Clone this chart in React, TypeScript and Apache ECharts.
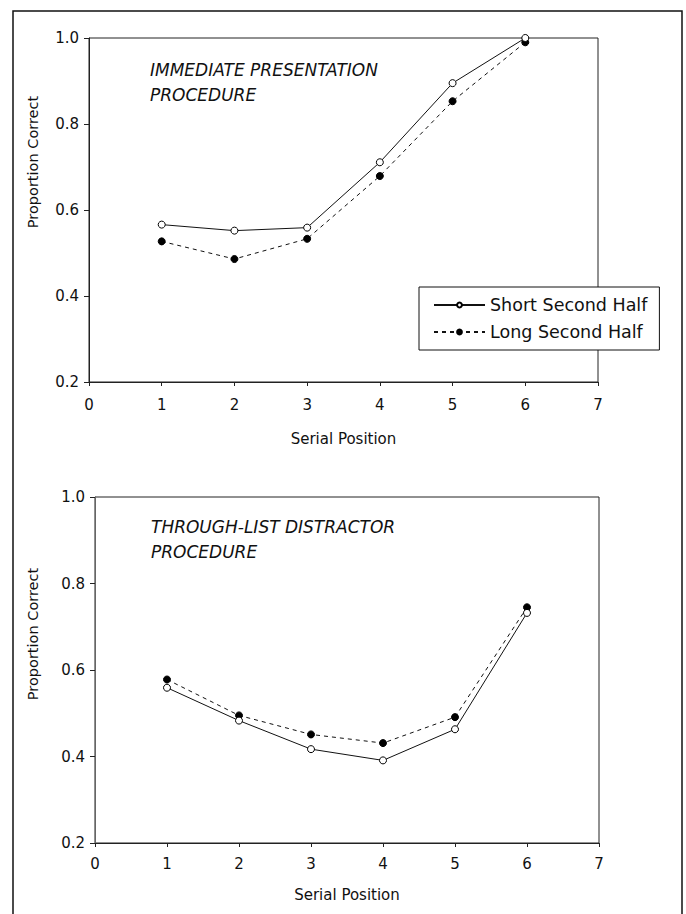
import React, { useEffect, useRef } from "react";
import * as echarts from "echarts";

const positions = [1, 2, 3, 4, 5, 6];
const immShort = [0.566, 0.552, 0.559, 0.711, 0.895, 1.0];
const immLong = [0.527, 0.486, 0.533, 0.679, 0.853, 0.99];
const tlShort = [0.559, 0.483, 0.417, 0.391, 0.463, 0.732];
const tlLong = [0.578, 0.495, 0.451, 0.431, 0.491, 0.745];
const seriesNames = ["Short Second Half", "Long Second Half"];
const panelTitles = [
  ["IMMEDIATE PRESENTATION", "PROCEDURE"],
  ["THROUGH-LIST DISTRACTOR", "PROCEDURE"],
];
const xName = "Serial Position";
const yName = "Proportion Correct";

const FONT = "'DejaVu Sans', 'Open Sans', sans-serif";

function pairs(xs: number[], ys: number[]) {
  return xs.map((x, i) => [x, ys[i]]);
}

export default function App() {
  const ref = useRef<HTMLDivElement>(null);
  useEffect(() => {
    if (!ref.current) return;
    const chart = echarts.init(ref.current, null, { renderer: "svg" });
    const grids = [
      { left: 89, top: 38, width: 509, height: 344 },
      { left: 95, top: 497, width: 504, height: 346 },
    ];
    const xAxis = grids.map((_, i) => ({
      type: "value",
      gridIndex: i,
      min: 0,
      max: 7,
      interval: 1,
      name: xName,
      nameLocation: "middle",
      nameGap: i === 0 ? 49 : 44,
      nameTextStyle: { fontFamily: FONT, fontSize: 15, color: "#111" },
      axisLine: { show: true, lineStyle: { color: "#222", width: 1 } },
      axisTick: { show: true, inside: false, length: 4, lineStyle: { color: "#222" } },
      axisLabel: { fontFamily: FONT, fontSize: 15, color: "#111", margin: i === 0 ? 15 : 13 },
      splitLine: { show: false },
    }));
    const yAxis = grids.map((_, i) => ({
      type: "value",
      gridIndex: i,
      min: 0.2,
      max: 1.0,
      interval: 0.2,
      axisLine: { show: true, lineStyle: { color: i === 0 ? "#222" : "#666", width: 1 } },
      axisTick: { show: true, inside: false, length: 5, lineStyle: { color: "#222" } },
      axisLabel: {
        fontFamily: FONT,
        fontSize: 15,
        color: "#111",
        margin: 10,
        formatter: (v: number) => v.toFixed(1),
      },
      splitLine: { show: false },
    }));
    const mkSeries = (name: string, data: number[][], idx: number, dashed: boolean) => ({
      type: "line",
      name,
      xAxisIndex: idx,
      yAxisIndex: idx,
      data,
      symbol: "circle",
      symbolSize: 7,
      showSymbol: true,
      lineStyle: { color: "#111", width: 1, type: dashed ? [4, 4] : "solid" },
      itemStyle: dashed
        ? { color: "#000", borderColor: "#000", borderWidth: 1 }
        : { color: "#fff", borderColor: "#000", borderWidth: 1 },
      z: dashed ? 2 : 3,
    });
    const titleGraphics: any[] = [];
    const titlePos = [
      { x: 150, y: 70 },
      { x: 151, y: 527 },
    ];
    panelTitles.forEach((lines, i) => {
      lines.forEach((t, j) => {
        titleGraphics.push({
          type: "text",
          x: titlePos[i].x,
          y: titlePos[i].y + j * 25,
          style: {
            text: t,
            font: `italic 17px ${FONT}`,
            fill: "#111",
            textVerticalAlign: "middle",
            verticalAlign: "middle",
          },
        });
      });
    });
    const yNameGraphics = [162, 634].map((cy) => ({
      type: "text",
      x: 33,
      y: cy,
      rotation: Math.PI / 2,
      style: {
        text: yName,
        font: `14.5px ${FONT}`,
        fill: "#111",
        textAlign: "center",
        textVerticalAlign: "middle",
        align: "center",
        verticalAlign: "middle",
      },
    }));
    chart.setOption({
      animation: false,
      backgroundColor: "#fff",
      grid: grids.map((g) => ({ ...g, show: true, borderColor: "#222", borderWidth: 1, backgroundColor: "transparent" })),
      xAxis,
      yAxis,
      legend: {
        left: 419,
        top: 287,
        orient: "vertical",
        data: seriesNames,
        itemWidth: 51,
        itemHeight: 6,
        itemGap: 9,
        padding: [9, 12, 9, 14],
        borderColor: "#111",
        borderWidth: 1,
        backgroundColor: "#fff",
        textStyle: { fontFamily: FONT, fontSize: 17.5, color: "#111" },
        z: 10,
      },
      series: [
        mkSeries(seriesNames[0], pairs(positions, immShort), 0, false),
        mkSeries(seriesNames[1], pairs(positions, immLong), 0, true),
        mkSeries(seriesNames[0], pairs(positions, tlShort), 1, false),
        mkSeries(seriesNames[1], pairs(positions, tlLong), 1, true),
      ],
      graphic: [
        {
          type: "rect",
          shape: { x: 13, y: 11, width: 669, height: 920 },
          style: { fill: "none", stroke: "#111", lineWidth: 1.5 },
          z: -1,
        },
        ...titleGraphics,
        ...yNameGraphics,
      ],
    });
    return () => chart.dispose();
  }, []);
  return (
    <div
      ref={ref}
      style={{ position: "absolute", left: 0, top: 0, width: 686, height: 914 }}
    />
  );
}
